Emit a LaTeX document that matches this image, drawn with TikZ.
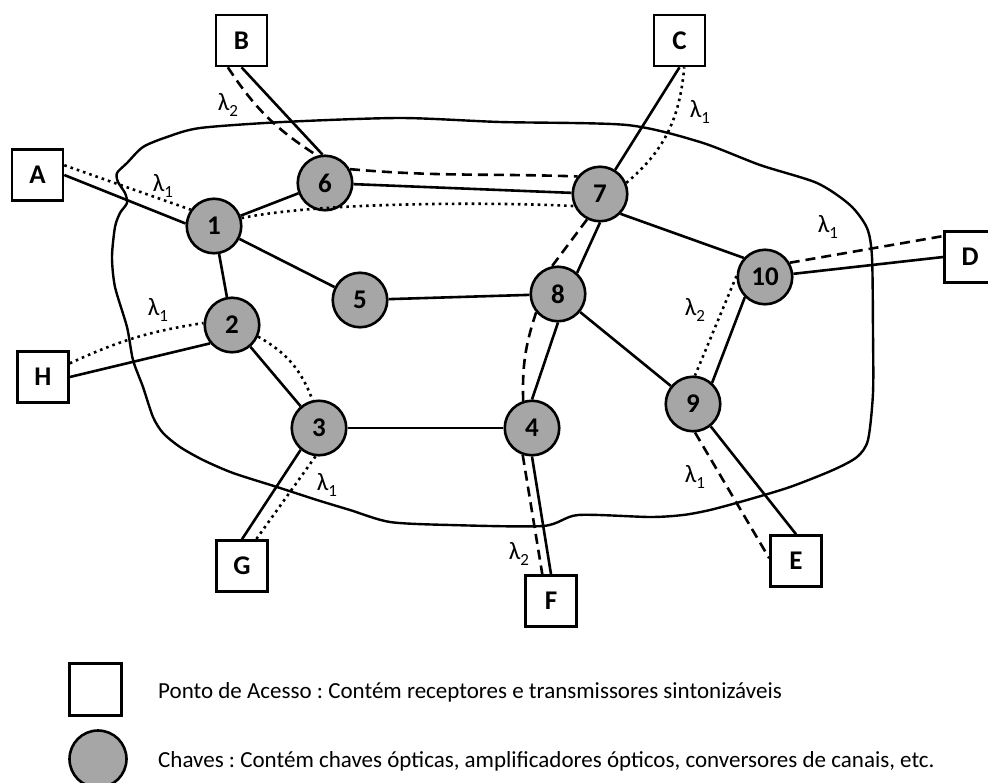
\documentclass[tikz,border=0pt]{standalone}
\usepackage{fontspec}
\setmainfont{Carlito}
\usepackage{xcolor}
\usepackage{tikz}
\definecolor{chavegray}{RGB}{166,166,166}
\newcommand{\lam}[1]{λ\raisebox{-6pt}{\fontsize{17}{17}\selectfont #1}}
\frenchspacing

\begin{document}
\begin{tikzpicture}[
  x=1pt, y=-1pt,
  ponto/.style={draw, line width=2.6pt, fill=white, minimum size=51pt, inner sep=0pt, font=\bfseries\fontsize{27}{27}\selectfont},
  chave/.style={circle, draw, line width=2.6pt, fill=chavegray, minimum size=54.5pt, inner sep=0pt, font=\bfseries\fontsize{27}{27}\selectfont},
  link/.style={line width=2.6pt},
  lpdot/.style={line width=2.6pt, dash pattern=on 2.6pt off 4pt},
  lpdash/.style={line width=2.6pt, dash pattern=on 10pt off 6pt},
  nuvem/.style={line width=2.4pt, line join=round},
  lam/.style={inner sep=0pt, font=\fontsize{25}{25}\selectfont},
  legenda/.style={inner sep=0pt, anchor=base west, font=\fontsize{23}{23}\selectfont}
]
\useasboundingbox (0,0) rectangle (988,782);

\draw[nuvem] plot[smooth cycle, tension=0.45] coordinates {
  (117,173) (127,163) (143,147) (167,137) (200,128) (283,122) (400,118)
  (500,122) (627,125) (700,142) (760,165) (817,183) (850,205) (867,228)
  (872,257) (873,333) (873,393) (868,440) (857,457) (833,470) (790,487)
  (747,500) (710,510) (683,515) (650,517) (578,515) (543,526) (450,525)
  (390,522) (350,510) (317,500) (277,487) (233,473) (203,460) (180,447)
  (163,433) (153,417) (143,387) (133,360) (127,327) (115,287) (112,257)
  (115,227) (120,213) (127,203) (125,193) (118,182)};

\node[ponto] (A) at (37.5,175) {A};
\node[ponto] (B) at (241.5,40.5) {B};
\node[ponto] (C) at (679.5,40.5) {C};
\node[ponto] (D) at (970,257) {D};
\node[ponto] (E) at (796,561) {E};
\node[ponto] (F) at (551,601) {F};
\node[ponto] (G) at (242,566) {G};
\node[ponto] (H) at (43,377) {H};

\node[chave] (ch1) at (214,226) {1};
\node[chave] (ch2) at (232,325) {2};
\node[chave] (ch3) at (319,428) {3};
\node[chave] (ch4) at (532,428) {4};
\node[chave] (ch5) at (360,300) {5};
\node[chave] (ch6) at (325,183) {6};
\node[chave] (ch7) at (600,194) {7};
\node[chave] (ch8) at (558,294) {8};
\node[chave] (ch9) at (693,404) {9};
\node[chave] (ch10) at (765,277) {10};

\draw[link] (A.east) -- (ch1.175);
\draw[link] (B.south) -- (ch6.95);
\draw[link] (C.south) -- (ch7);
\draw[link] (ch10) -- (D.west);
\draw[link] (ch9) -- (E.north);
\draw[link] (ch4.south) -- (F.north);
\draw[link] (G.north) -- (ch3.230);
\draw[link] (H.east) -- (ch2.220);
\draw[link] (ch1) -- (ch6);
\draw[link] (ch1) -- (ch2);
\draw[link] (ch1) -- (ch5);
\draw[link] (ch6) -- (ch7);
\draw[link] (ch7.-90) -- (ch8.48);
\draw[link] (ch7.-44) -- (ch10.138);
\draw[link] (ch5) -- (ch8);
\draw[link] (ch8.south) -- (ch4.north);
\draw[link] (ch8) -- (ch9);
\draw[link] (ch10.225) -- (ch9.48);
\draw[link] (ch2) -- (ch3);
\draw[link] (ch3) -- (ch4);

\draw[lpdot] (A.20) -- (ch1.145);
\draw[lpdot] (ch1.16) to[out=12, in=177, looseness=0.6] (ch7.205);
\draw[lpdot] (ch7.23) to[out=40, in=-95] (C.-80);
\draw[lpdash] (B.-117) to[bend right=12] (ch6.106);
\draw[lpdash] (ch6.29) to[out=-5, in=178] (ch7.142);
\draw[lpdash] (ch7.243) -- (ch8.102);
\draw[lpdash] (ch8.220) to[bend right=10] (ch4.108);
\draw[lpdash] (ch4.251) -- (F.108);
\draw[lpdot] (H.27) to[bend left=8] (ch2.176);
\draw[lpdot] (ch2.-24) to[bend left=20] (ch3.103);
\draw[lpdot] (ch3.263) -- (G.62);
\draw[lpdot] (ch10.178) -- (ch9.86);
\draw[lpdash] (ch10.30) -- (D.142);
\draw[lpdash] (ch9.-86) -- (E.174);

\node[lam] (lamA) at (163,186) {\lam{1}};
\node[lam] (lamB) at (228,105) {\lam{2}};
\node[lam] (lamC) at (700,112) {\lam{1}};
\node[lam] (lamD) at (828,227) {\lam{1}};
\node[lam] (lamH) at (158,310) {\lam{1}};
\node[lam] (lamG) at (327,485) {\lam{1}};
\node[lam] (lamF) at (519,554) {\lam{2}};
\node[lam] (lamX) at (695,310) {\lam{2}};
\node[lam] (lamE) at (695,477) {\lam{1}};

\node[ponto, minimum size=52pt] (keyap) at (95.5,689.5) {};
\node[chave, minimum size=57pt] (keysw) at (98,759) {};
\node[legenda] (keyaptext) at (158,698) {Ponto de Acesso : Contém receptores e transmissores sintonizáveis};
\node[legenda] (keyswtext) at (158,767) {Chaves : Contém chaves ópticas, amplificadores ópticos, conversores de canais, etc.};
\end{tikzpicture}
\end{document}
